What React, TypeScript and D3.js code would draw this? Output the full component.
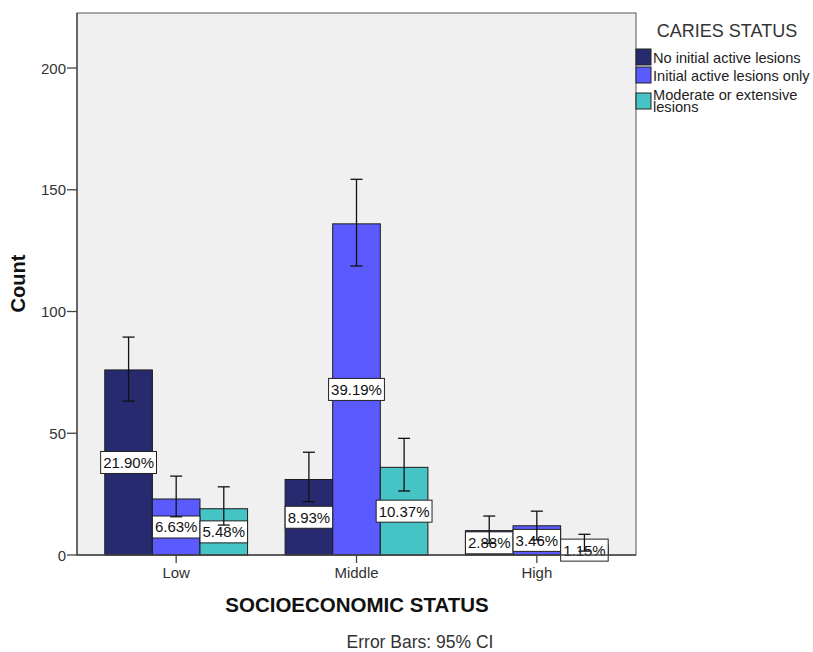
import React from "react";
import * as d3 from "d3";

const categories = ["Low", "Middle", "High"];
const colors = ["#272a6f", "#5a5aff", "#46c3c5"];
const noInitial = [76, 31, 10];
const initialOnly = [23, 136, 12];
const moderate = [19, 36, 4];
const noInitialCI = [[63.2, 89.5], [21.9, 42.2], [4.8, 16]];
const initialOnlyCI = [[15.7, 32.4], [118.7, 154.3], [6.2, 18]];
const moderateCI = [[12.3, 28], [26.3, 47.9], [1.6, 8.5]];
const pctLabels = [["21.90%", "6.63%", "5.48%"], ["8.93%", "39.19%", "10.37%"], ["2.88%", "3.46%", "1.15%"]];
const yTicks = [0, 50, 100, 150, 200];
const legendLines = [["No initial active lesions"], ["Initial active lesions only"], ["Moderate or extensive", "lesions"]];

const W = 813, H = 652;
const L = 77, R = 636, T = 13, B = 555;

function textW(s: string, fs: number) {
  let w = 0;
  for (const ch of s) w += ch === "." ? 0.278 : ch === "%" ? 0.889 : 0.556;
  return w * fs;
}

export default function App() {
  const series = [noInitial, initialOnly, moderate];
  const cis = [noInitialCI, initialOnlyCI, moderateCI];
  const y = d3.scaleLinear().domain([0, 222.6]).range([B, T]);
  const x = d3.scalePoint().domain(categories).range([L, R]).padding(0.55);
  const barW = 47.6;
  const font = "Arial, 'Liberation Sans', sans-serif";
  const lfs = 15;

  const bars: any[] = [];
  const errs: any[] = [];
  const labels: any[] = [];
  categories.forEach((c, ci) => {
    const cx = x(c)!;
    series.forEach((s, si) => {
      const bx = cx + (si - 1.5) * barW;
      const v = s[ci];
      const mid = bx + barW / 2;
      bars.push(
        <rect key={`b${ci}${si}`} x={bx} y={y(v)} width={barW} height={y(0) - y(v)} fill={colors[si]} stroke="#1a1a1a" strokeWidth={1} />
      );
      const [lo, hi] = cis[si][ci];
      errs.push(
        <g key={`e${ci}${si}`} stroke="#111" strokeWidth={1.3}>
          <line x1={mid} x2={mid} y1={y(lo)} y2={y(hi)} />
          <line x1={mid - 6} x2={mid + 6} y1={y(lo)} y2={y(lo)} />
          <line x1={mid - 6} x2={mid + 6} y1={y(hi)} y2={y(hi)} />
        </g>
      );
      const ly = (y(v) + y(0)) / 2;
      const txt = pctLabels[ci][si];
      const bw = textW(txt, lfs) + 5;
      labels.push(
        <g key={`l${ci}${si}`}>
          <rect x={mid - bw / 2} y={ly - 11} width={bw} height={22} fill="#fff" stroke="#222" strokeWidth={1} />
          <text x={mid} y={ly + 5.5} textAnchor="middle" fontSize={lfs} fontFamily={font} fill="#111">{txt}</text>
        </g>
      );
    });
  });

  return (
    <svg width={W} height={H} style={{ position: "absolute", left: 0, top: 0 }}>
      <rect x={0} y={0} width={W} height={H} fill="#fff" />
      <rect x={L} y={T} width={R - L} height={B - T} fill="#f0f0f0" stroke="#555" strokeWidth={1} />
      {bars}
      {labels}
      {errs}
      <line x1={L} x2={R} y1={B} y2={B} stroke="#444" strokeWidth={1.3} />
      <line x1={L} x2={L} y1={T} y2={B} stroke="#444" strokeWidth={1.3} />
      {yTicks.map((t) => (
        <g key={t}>
          <line x1={L - 10} x2={L} y1={y(t)} y2={y(t)} stroke="#444" strokeWidth={1.3} />
          <text x={L - 11} y={y(t) + 5.5} textAnchor="end" fontSize={15} fontFamily={font} fill="#333">{t}</text>
        </g>
      ))}
      {categories.map((c) => (
        <g key={c}>
          <line x1={x(c)!} x2={x(c)!} y1={B} y2={B + 8} stroke="#444" strokeWidth={1.3} />
          <text x={x(c)!} y={B + 23} textAnchor="middle" fontSize={15} fontFamily={font} fill="#333">{c}</text>
        </g>
      ))}
      <text transform={`translate(25,283.5) rotate(-90)`} textAnchor="middle" fontSize={20} fontWeight="bold" fontFamily={font} fill="#111">Count</text>
      <text x={357} y={612} textAnchor="middle" fontSize={20.5} fontWeight="bold" fontFamily={font} fill="#111">SOCIOECONOMIC STATUS</text>
      <text x={420} y={648} textAnchor="middle" fontSize={17.5} fontFamily={font} fill="#333">Error Bars: 95% CI</text>
      <text x={727} y={37} textAnchor="middle" fontSize={18} fontFamily={font} fill="#333">CARIES STATUS</text>
      {[49, 67, 93].map((y0, i) => (
        <g key={i}>
          <rect x={R} y={y0} width={15} height={16} fill={colors[i]} stroke="#222" strokeWidth={1} />
          {legendLines[i].map((ln, k) => (
            <text key={k} x={653} y={(i === 0 ? 63 : i === 1 ? 81 : 99.5) + k * 12.8} fontSize={14.6} fontFamily={font} fill="#222">{ln}</text>
          ))}
        </g>
      ))}
    </svg>
  );
}
